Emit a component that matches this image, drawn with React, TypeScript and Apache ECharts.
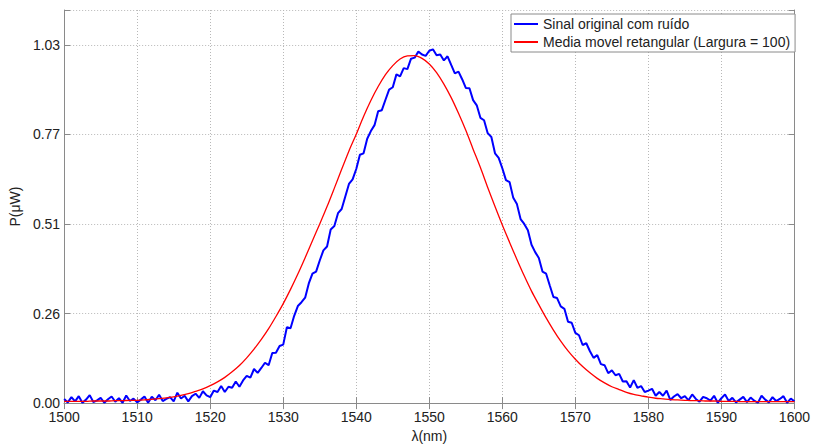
import React, { useEffect, useRef } from "react";
import * as echarts from "echarts";

// Wavelength axis (nm)
const xMin = 1500;
const xMax = 1600;
const xTickStep = 10;

// Power axis (uW) ticks
const yMin = 0;
const yMax = 1.13;
const yTickStep = 0.2575;
const yTickValues = [0, 0.2575, 0.515, 0.7725, 1.03];
const yTickLabels = ["0.00", "0.26", "0.51", "0.77", "1.03"];

const legendNames = [
  "Sinal original com ruído",
  "Media movel retangular (Largura = 100)",
];

// Noisy original signal, sampled every 0.5 nm from 1500 nm
const blueStart = 1500;
const blueStep = 0.5;
const blueValues = [
  0.012, 0.002, 0.017, 0.005, 0.020, 0.001, 0.010, 0.023, 0.003, 0.008,
  0.015, 0.001, 0.011, 0.019, 0.004, 0.014, 0.001, 0.022, 0.006, 0.013,
  0.002, 0.010, 0.019, 0.001, 0.018, 0.008, 0.024, 0.006, 0.012, 0.017,
  0.005, 0.030, 0.013, 0.021, 0.005, 0.020, 0.027, 0.015, 0.034, 0.022,
  0.017, 0.036, 0.032, 0.049, 0.032, 0.047, 0.044, 0.062, 0.047, 0.065,
  0.078, 0.073, 0.098, 0.087, 0.101, 0.116, 0.109, 0.144, 0.145, 0.164,
  0.168, 0.218, 0.215, 0.251, 0.279, 0.290, 0.303, 0.344, 0.372, 0.378,
  0.410, 0.439, 0.450, 0.499, 0.509, 0.546, 0.558, 0.594, 0.630, 0.643,
  0.673, 0.714, 0.718, 0.760, 0.782, 0.799, 0.839, 0.842, 0.872, 0.901,
  0.908, 0.945, 0.939, 0.963, 0.960, 0.990, 0.993, 1.011, 1.002, 0.998,
  1.013, 1.017, 1.000, 1.002, 0.985, 0.997, 0.972, 0.948, 0.953, 0.931,
  0.906, 0.905, 0.871, 0.856, 0.820, 0.813, 0.776, 0.765, 0.718, 0.705,
  0.675, 0.641, 0.635, 0.590, 0.572, 0.529, 0.515, 0.497, 0.455, 0.434,
  0.417, 0.378, 0.372, 0.338, 0.305, 0.302, 0.278, 0.271, 0.234, 0.231,
  0.202, 0.195, 0.167, 0.172, 0.149, 0.130, 0.138, 0.112, 0.109, 0.086,
  0.094, 0.080, 0.084, 0.062, 0.063, 0.045, 0.066, 0.044, 0.049, 0.032,
  0.036, 0.041, 0.021, 0.032, 0.021, 0.036, 0.009, 0.019, 0.026, 0.014,
  0.020, 0.008, 0.025, 0.012, 0.004, 0.018, 0.014, 0.007, 0.021, 0.001,
  0.014, 0.025, 0.006, 0.015, 0.002, 0.010, 0.018, 0.003, 0.016, 0.007,
  0.001, 0.021, 0.010, 0.002, 0.017, 0.006, 0.012, 0.020, 0.001, 0.013,
  0.005,
];

// Rectangular moving average, sampled every 1 nm from 1500 nm
const redStart = 1500;
const redStep = 1;
const redValues = [
  0.005, 0.005, 0.005, 0.005, 0.006, 0.006, 0.006, 0.007, 0.007, 0.008,
  0.008, 0.009, 0.011, 0.013, 0.015, 0.018, 0.022, 0.027, 0.034, 0.041,
  0.050, 0.061, 0.074, 0.090, 0.108, 0.130, 0.155, 0.183, 0.214, 0.249,
  0.286, 0.327, 0.371, 0.418, 0.467, 0.515, 0.565, 0.618, 0.672, 0.725,
  0.773, 0.824, 0.870, 0.910, 0.944, 0.970, 0.989, 0.998, 0.999, 0.991,
  0.975, 0.950, 0.917, 0.878, 0.833, 0.784, 0.730, 0.677, 0.620, 0.565,
  0.512, 0.462, 0.413, 0.366, 0.322, 0.283, 0.245, 0.210, 0.178, 0.150,
  0.126, 0.105, 0.087, 0.071, 0.058, 0.047, 0.039, 0.031, 0.025, 0.021,
  0.017, 0.014, 0.012, 0.010, 0.009, 0.008, 0.007, 0.007, 0.006, 0.006,
  0.005, 0.005, 0.005, 0.004, 0.004, 0.004, 0.004, 0.004, 0.004, 0.004,
  0.004,
];

const FONT = "'Liberation Sans', Arial, Helvetica, sans-serif";
const AXIS_GRAY = "#8a8a8a";
const TEXT = "#222222";

export default function App() {
  const ref = useRef<HTMLDivElement>(null);

  useEffect(() => {
    if (!ref.current) return;
    const chart = echarts.init(ref.current, undefined, { renderer: "svg" });

    const blueData = blueValues.map((v, i) => [blueStart + i * blueStep, v]);
    const redData = redValues.map((v, i) => [redStart + i * redStep, v]);

    const yLabel = (v: number) => {
      const idx = yTickValues.findIndex((t) => Math.abs(t - v) < 1e-4);
      return idx >= 0 ? yTickLabels[idx] : "";
    };

    const baseAxisLine = { show: true, lineStyle: { color: AXIS_GRAY, width: 1 } };
    const baseTick = { show: true, inside: true, length: 6, lineStyle: { color: AXIS_GRAY } };

    chart.setOption({
      animation: false,
      backgroundColor: "#ffffff",
      textStyle: { fontFamily: FONT },
      grid: { left: 62, right: 17, top: 10, bottom: 37, containLabel: false },
      legend: {
        left: 511,
        top: 14,
        orient: "vertical",
        backgroundColor: "#ffffff",
        borderColor: AXIS_GRAY,
        borderWidth: 1,
        borderRadius: 0,
        padding: [3, 5, 3, 3],
        itemGap: 4,
        itemWidth: 24,
        itemHeight: 2,
        icon: "rect",
        textStyle: { fontSize: 14, color: TEXT, fontFamily: FONT },
        data: legendNames,
      },
      xAxis: [
        {
          type: "value",
          min: xMin,
          max: xMax,
          interval: xTickStep,
          position: "bottom",
          name: "λ(nm)",
          nameLocation: "middle",
          nameGap: 20,
          nameTextStyle: { fontSize: 14, color: TEXT, fontFamily: FONT },
          axisLine: baseAxisLine,
          axisTick: baseTick,
          axisLabel: {
            fontSize: 14,
            color: TEXT,
            margin: 7,
            fontFamily: FONT,
            formatter: (v: number) => String(Math.round(v)),
          },
          splitLine: { show: true, lineStyle: { color: "#b8b8b8", type: [1, 2], width: 1 } },
        },
        {
          type: "value",
          min: xMin,
          max: xMax,
          interval: xTickStep,
          position: "top",
          axisLine: baseAxisLine,
          axisTick: baseTick,
          axisLabel: { show: false },
          splitLine: { show: false },
        },
      ],
      yAxis: [
        {
          type: "value",
          min: yMin,
          max: yMax,
          interval: yTickStep,
          position: "left",
          name: "P(μW)",
          nameLocation: "middle",
          nameGap: 38,
          nameTextStyle: { fontSize: 14, color: TEXT, fontFamily: FONT },
          axisLine: baseAxisLine,
          axisTick: baseTick,
          axisLabel: { fontSize: 14, color: TEXT, margin: 4, fontFamily: FONT, formatter: yLabel },
          splitLine: { show: true, lineStyle: { color: "#b8b8b8", type: [1, 2], width: 1 } },
        },
        {
          type: "value",
          min: yMin,
          max: yMax,
          interval: yTickStep,
          position: "right",
          axisLine: baseAxisLine,
          axisTick: baseTick,
          axisLabel: { show: false },
          splitLine: { show: false },
        },
      ],
      series: [
        {
          name: legendNames[0],
          type: "line",
          data: blueData,
          symbol: "none",
          lineStyle: { color: "#0000ff", width: 2 },
          itemStyle: { color: "#0000ff" },
        },
        {
          name: legendNames[1],
          type: "line",
          data: redData,
          symbol: "none",
          smooth: 0.3,
          lineStyle: { color: "#ff0000", width: 1.3 },
          itemStyle: { color: "#ff0000" },
        },
      ],
    });

    return () => chart.dispose();
  }, []);

  return (
    <div
      ref={ref}
      style={{ position: "fixed", left: 0, top: 0, width: 813, height: 448, background: "#fff" }}
    />
  );
}
